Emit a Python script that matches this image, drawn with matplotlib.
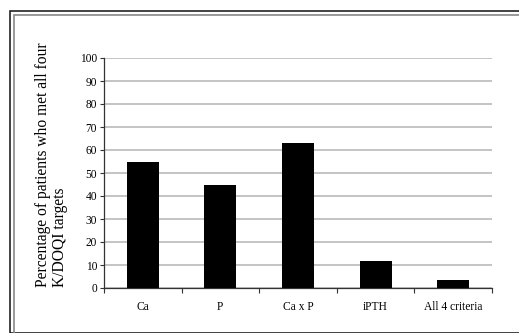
import matplotlib
matplotlib.use("Agg")
import matplotlib.pyplot as plt
from matplotlib.patches import Rectangle
import numpy as np

categories = ["Ca", "P", "Ca x P", "iPTH", "All 4 criteria"]
values = [55, 44.7, 63, 11.8, 3.4]
yticks = list(range(0, 101, 10))

plt.rcParams['font.family'] = ['Liberation Serif', 'DejaVu Serif']

W, H = 519, 333
fig = plt.figure(figsize=(W/100, H/100), dpi=100)

# double frame border
fig.patches.append(Rectangle((9.5/W, 0), (W+20)/W, (H-11)/H, transform=fig.transFigure,
                             fill=False, edgecolor='#222222', linewidth=1.2))
fig.patches.append(Rectangle((13.5/W, -0.1), (W+20)/W, (H-15)/H + 0.1, transform=fig.transFigure,
                             fill=False, edgecolor='#888888', linewidth=1.2))

ax = fig.add_axes([104/W, 1-288/H, (492-104)/W, (288-58)/H])
x = np.arange(len(categories))
ax.bar(x, values, width=0.41, color='black', zorder=3)
ax.set_xlim(-0.5, len(categories)-0.5)
ax.set_ylim(0, 100)
ax.set_yticks(yticks)
ax.set_yticklabels([str(t) for t in yticks], fontsize=8.3)
ax.yaxis.grid(True, color='#b4b4b4', linewidth=1.1, zorder=0)
ax.set_axisbelow(True)
ax.set_xticks(x)
ax.set_xticklabels(categories, fontsize=8.3)
ax.tick_params(axis='x', length=0, pad=9)
ax.set_xticks(np.arange(-0.5, len(categories)), minor=True)
ax.tick_params(axis='x', which='minor', length=3.5, width=0.8, direction='out', color='#333333')
ax.tick_params(axis='y', length=3, width=0.8, direction='out', color='#333333', pad=2)
for s in ['top', 'right']:
    ax.spines[s].set_visible(False)
for s in ['left', 'bottom']:
    ax.spines[s].set_color('#333333')
    ax.spines[s].set_linewidth(0.9)

fig.text(43/W, 1-287/H, "Percentage of patients who met all four", rotation=90,
         ha='center', va='bottom', fontsize=11.2)
fig.text(60/W, 1-287/H, "K/DOQI targets", rotation=90,
         ha='center', va='bottom', fontsize=11.2)

fig.savefig("out.png", dpi=100)
